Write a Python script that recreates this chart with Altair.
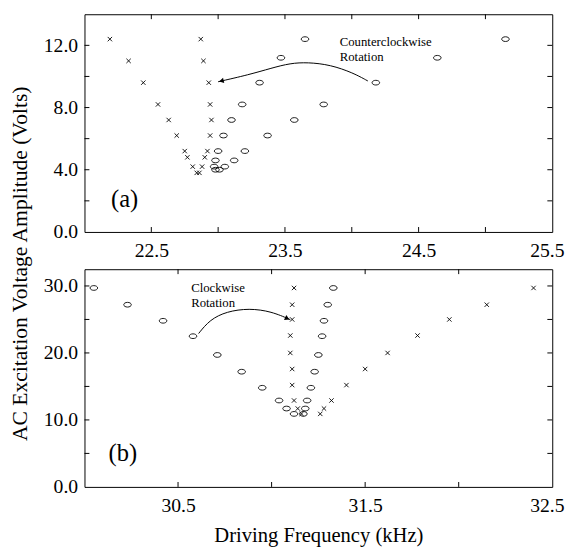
import altair as alt
import pandas as pd

# ---------------- data ----------------
# Panel (a)
a_cross_x = [22.19, 22.33, 22.44, 22.55, 22.63, 22.69, 22.75, 22.77, 22.81, 22.84,
             22.86, 22.88, 22.90, 22.92, 22.94, 22.95, 22.94, 22.93, 22.89, 22.87]
a_cross_y = [12.4, 11.0, 9.6, 8.2, 7.2, 6.2, 5.2, 4.8, 4.2, 3.8,
             3.8, 4.2, 4.8, 5.2, 6.2, 7.2, 8.2, 9.6, 11.0, 12.4]
a_circ_x = [22.98, 23.01, 22.97, 23.05, 22.98, 23.12, 23.00, 23.20, 23.04, 23.37,
            23.10, 23.57, 23.18, 23.79, 23.31, 24.18, 23.47, 24.64, 23.65, 25.15]
a_circ_y = [4.0, 4.0, 4.2, 4.2, 4.6, 4.6, 5.2, 5.2, 6.2, 6.2,
            7.2, 7.2, 8.2, 8.2, 9.6, 9.6, 11.2, 11.2, 12.4, 12.4]

# Panel (b)
b_circ_x = [30.05, 30.23, 30.42, 30.58, 30.71, 30.84, 30.95, 31.04, 31.08, 31.12,
            31.17, 31.18, 31.19, 31.21, 31.23, 31.25, 31.27, 31.28, 31.30, 31.33]
b_circ_y = [29.7, 27.2, 24.8, 22.5, 19.7, 17.2, 14.8, 12.9, 11.7, 10.9,
            10.9, 11.7, 12.9, 14.8, 17.2, 19.7, 22.5, 24.8, 27.2, 29.7]
b_cross_x = [31.12, 31.11, 31.11, 31.10, 31.10, 31.11, 31.11, 31.12, 31.14, 31.16,
             31.26, 31.28, 31.32, 31.40, 31.50, 31.62, 31.78, 31.95, 32.15, 32.40]
b_cross_y = [29.7, 27.2, 25.0, 22.6, 20.0, 17.6, 15.2, 12.9, 11.7, 10.9,
             10.9, 11.7, 12.9, 15.2, 17.6, 20.0, 22.6, 25.0, 27.2, 29.7]

# axes
a_xdom = [22.0, 25.5]
a_ydom = [0, 14]
a_xlabels = [22.5, 23.5, 24.5, 25.5]
a_ylabels = [0, 4, 8, 12]
a_xticks = [22.5, 23.0, 23.5, 24.0, 24.5, 25.0]
a_yticks = [2, 4, 6, 8, 10, 12]

b_xdom = [30.0, 32.5]
b_ydom = [0, 32.5]
b_xlabels = [30.5, 31.5, 32.5]
b_ylabels = [0, 10, 20, 30]
b_xticks = [30.5, 31.0, 31.5, 32.0]
b_yticks = [5, 10, 15, 20, 25, 30]

# annotations
a_arc_x = [24.12, 24.01, 23.84, 23.67, 23.54, 23.40, 23.23, 23.00]
a_arc_y = [9.71, 10.23, 10.75, 10.91, 10.85, 10.54, 10.11, 9.66]
a_head = {"x": [23.03], "y": [9.72]}
b_arc_x = [30.61, 30.67, 30.76, 30.88, 31.00, 31.10]
b_arc_y = [22.9, 24.97, 26.19, 26.67, 26.19, 24.97]
b_head = {"x": [31.08], "y": [25.2]}

a_note = {"x": [23.91], "y": [12.6], "t": ["Counterclockwise\nRotation"]}
b_note = {"x": [30.57], "y": [30.5], "t": ["Clockwise\nRotation"]}
a_tag = {"x": [22.30], "y": [2.1], "t": ["(a)"]}
b_tag = {"x": [30.205], "y": [5.1], "t": ["(b)"]}

FONT = "Liberation Serif"
W = 477
HA = 222
HB = 222
GAP = 38
YTITLE = "AC Excitation Voltage Amplitude (Volts)"

CROSS = "M-1,-1L1,1M-1,1L1,-1"
ELLIPSE = "M-1,0A1,0.62,0,1,1,1,0A1,0.62,0,1,1,-1,0Z"


def panel(cx, cy, ox, oy, xdom, ydom, xlab, ylab, xt, yt, H,
          arcx, arcy, head, head_angle, note, tag, xtitle, ytitle):
    xs = alt.Scale(domain=xdom, nice=False, zero=False)
    ys = alt.Scale(domain=ydom, nice=False, zero=False)

    xaxis = alt.Axis(values=xlab, format=".1f", ticks=False, domain=False, grid=False,
                     labelFont=FONT, labelFontSize=20, labelColor="black", labelPadding=9,
                     labelFlush=True, labelFlushOffset=12,
                     title=xtitle, titleFont=FONT, titleFontSize=21,
                     titleFontWeight="normal", titleColor="black", titlePadding=10)
    if ytitle:
        yaxis = alt.Axis(values=ylab, format=".1f", ticks=False, domain=False, grid=False,
                         labelFont=FONT, labelFontSize=20, labelColor="black", labelPadding=7,
                         title=YTITLE, titleFont=FONT, titleFontSize=22,
                         titleFontWeight="normal", titleColor="black", titlePadding=12,
                         titleY=-6)
    else:
        yaxis = alt.Axis(values=ylab, format=".1f", ticks=False, domain=False, grid=False,
                         labelFont=FONT, labelFontSize=20, labelColor="black", labelPadding=7,
                         title="")

    def X(f):
        return alt.X(f, type="quantitative", scale=xs, axis=xaxis)

    def Y(f):
        return alt.Y(f, type="quantitative", scale=ys, axis=yaxis)

    cross_df = pd.DataFrame({"x": cx, "y": cy})
    circ_df = pd.DataFrame({"x": ox, "y": oy})

    crosses = alt.Chart(cross_df).mark_point(
        shape=CROSS, size=20, filled=False, stroke="black", strokeWidth=0.9, opacity=1
    ).encode(x=X("x"), y=Y("y"))
    circles = alt.Chart(circ_df).mark_point(
        shape=ELLIPSE, size=60, filled=False, stroke="black", strokeWidth=0.9, opacity=1
    ).encode(x=X("x"), y=Y("y"))

    xdf = pd.DataFrame({"x": xt})
    ydf = pd.DataFrame({"y": yt})
    tb = alt.Chart(xdf).mark_rule(color="black", strokeWidth=1).encode(
        x=X("x"), y=alt.value(H), y2=alt.value(H - 5))
    tt = alt.Chart(xdf).mark_rule(color="black", strokeWidth=1).encode(
        x=X("x"), y=alt.value(0), y2=alt.value(5))
    tl = alt.Chart(ydf).mark_rule(color="black", strokeWidth=1).encode(
        y=Y("y"), x=alt.value(0), x2=alt.value(5))
    tr = alt.Chart(ydf).mark_rule(color="black", strokeWidth=1).encode(
        y=Y("y"), x=alt.value(W - 5), x2=alt.value(W))

    arc_df = pd.DataFrame({"x": arcx, "y": arcy, "o": list(range(len(arcx)))})
    arc = alt.Chart(arc_df).mark_line(color="black", strokeWidth=1, interpolate="basis").encode(
        x=X("x"), y=Y("y"), order="o:O")
    hd = alt.Chart(pd.DataFrame(head)).mark_point(
        shape="triangle", filled=True, color="black", size=30, opacity=1
    ).encode(x=X("x"), y=Y("y"), angle=alt.value(head_angle))

    nt = alt.Chart(pd.DataFrame(note)).mark_text(
        font=FONT, fontSize=13, align="left", baseline="top", lineBreak="\n",
        lineHeight=15, color="black"
    ).encode(x=X("x"), y=Y("y"), text="t:N")
    tg = alt.Chart(pd.DataFrame(tag)).mark_text(
        font=FONT, fontSize=25, align="center", baseline="middle", color="black"
    ).encode(x=X("x"), y=Y("y"), text="t:N")

    return alt.layer(crosses, circles, tb, tt, tl, tr, arc, hd, nt, tg).properties(
        width=W, height=H)


pa = panel(a_cross_x, a_cross_y, a_circ_x, a_circ_y, a_xdom, a_ydom, a_xlabels, a_ylabels,
           a_xticks, a_yticks, HA, a_arc_x, a_arc_y, a_head, 257, a_note, a_tag,
           "", False)
pb = panel(b_cross_x, b_cross_y, b_circ_x, b_circ_y, b_xdom, b_ydom, b_xlabels, b_ylabels,
           b_xticks, b_yticks, HB, b_arc_x, b_arc_y, b_head, 115, b_note, b_tag,
           "Driving Frequency (kHz)", True)

chart = alt.vconcat(pa, pb, spacing=GAP, bounds="flush").properties(
    padding={"left": 0, "top": 0, "right": 0, "bottom": 0}
).configure_view(stroke="black", strokeWidth=1)

chart.save("out.html", embed_options={"renderer": "svg", "actions": False})
